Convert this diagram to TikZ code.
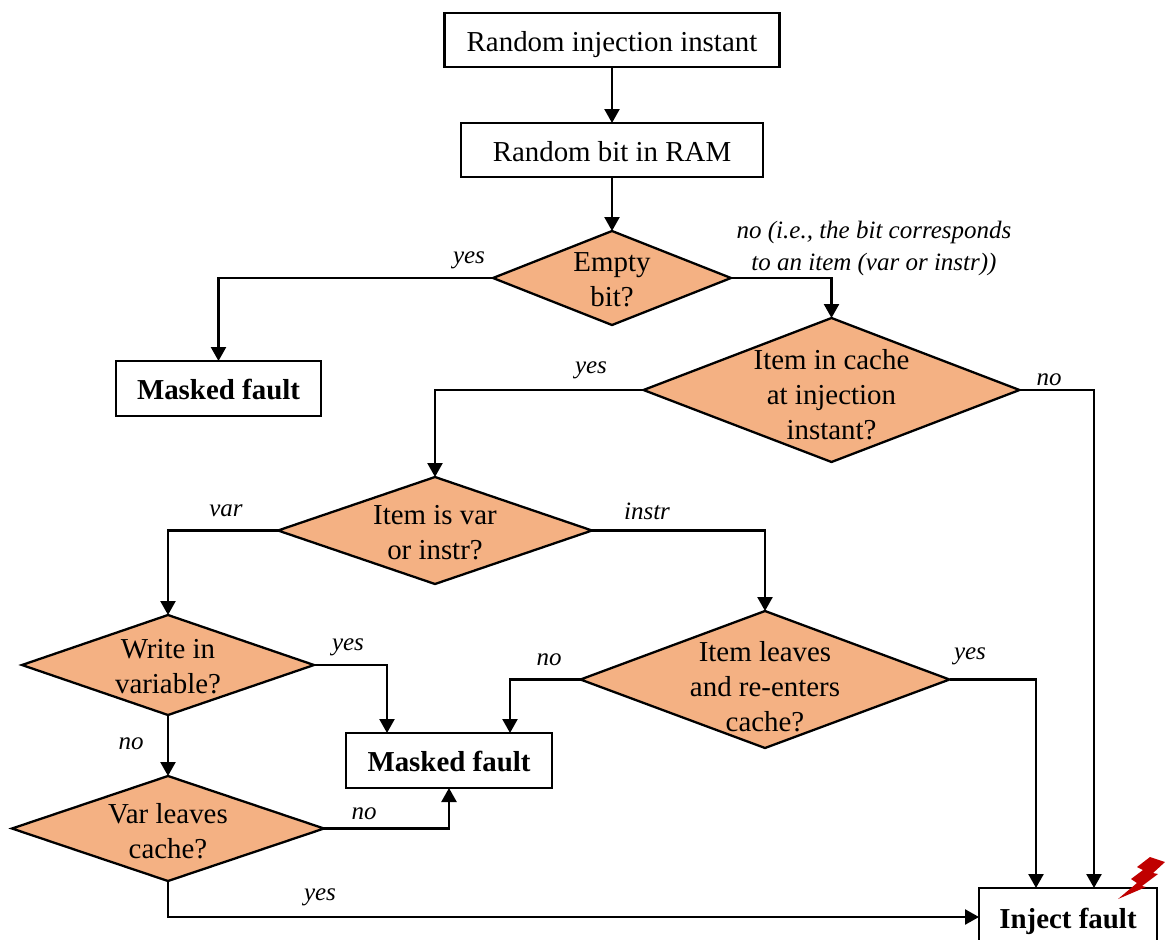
\documentclass[tikz,border=0pt]{standalone}
\usepackage{fontspec}
\setmainfont{Liberation Serif}
\usetikzlibrary{shapes.geometric,arrows.meta}
\newcommand{\dtxt}[2][0]{\smash{\makebox[0pt]{\raisebox{-0.25em}{\raisebox{-#1pt}{\begin{tabular}{@{}c@{}}#2\end{tabular}}}}}}
\tikzset{
  x=1pt,y=-1pt,
  boxnode/.style={draw=black,fill=white,line width=2.3pt,inner sep=0pt,outer sep=0pt,text height=26pt,text depth=4pt,font=\fontsize{28.9}{35}\selectfont},
  decnode/.style={diamond,draw=black,fill=decfill,line width=2.3pt,inner sep=0pt,outer sep=0pt,font=\fontsize{28.9}{35}\selectfont},
  lab/.style={inner sep=0pt,font=\fontsize{25}{32}\selectfont\itshape},
  conn/.style={line width=2.4pt,-{Triangle[width=15pt,length=14pt]}},
}
\definecolor{decfill}{HTML}{F4B183}
\definecolor{boltred}{HTML}{C00000}
\begin{document}
\begin{tikzpicture}
\useasboundingbox (0,0) rectangle (1165,940);
\setlength{\tabcolsep}{0pt}
\node[boxnode,minimum width=335pt,minimum height=54pt] (start) at (612,40) {Random injection instant};
\node[boxnode,minimum width=302pt,minimum height=54pt] (bit) at (612,150) {Random bit in RAM};
\node[decnode,minimum width=238pt,minimum height=94pt,shape aspect=2.53] (empty) at (612,278) {\dtxt[3]{Empty\\bit?}};
\node[boxnode,minimum width=205pt,minimum height=55pt,font=\fontsize{28.9}{35}\selectfont\bfseries] (mask1) at (218.5,388.5) {Masked fault};
\node[decnode,minimum width=376pt,minimum height=144pt,shape aspect=2.61] (incache) at (831.5,390) {\dtxt[6]{Item in cache\\at injection\\instant?}};
\node[decnode,minimum width=314pt,minimum height=107pt,shape aspect=2.93] (varinstr) at (435,530.5) {\dtxt[3]{Item is var\\or instr?}};
\node[decnode,minimum width=369pt,minimum height=137pt,shape aspect=2.69] (leaves) at (765,679.5) {\dtxt[9]{Item leaves\\and re-enters\\cache?}};
\node[decnode,minimum width=292pt,minimum height=100pt,shape aspect=2.92] (write) at (168,665) {\dtxt[3]{Write in\\variable?}};
\node[boxnode,minimum width=206pt,minimum height=55pt,font=\fontsize{28.9}{35}\selectfont\bfseries] (mask2) at (449,760.5) {Masked fault};
\node[decnode,minimum width=312pt,minimum height=105pt,shape aspect=2.97] (varleaves) at (168,828.5) {\dtxt[4]{Var leaves\\cache?}};
\node[boxnode,minimum width=178pt,minimum height=58pt,font=\fontsize{28.9}{35}\selectfont\bfseries] (inject) at (1068,917) {Inject fault};
\coordinate (injA) at (1036,888);
\coordinate (injB) at (1094,888);
\coordinate (injW) at (979,917);
\coordinate (mA) at (387,733);
\coordinate (mB) at (510,733);
\draw[conn] (start) -- (bit);
\draw[conn] (bit) -- (empty);
\draw[conn] (empty.west) -| (mask1.north);
\draw[conn] (empty.east) -| (incache.north);
\draw[conn] (incache.west) -| (varinstr.north);
\draw[conn] (incache.east) -| (injB);
\draw[conn] (varinstr.west) -| (write.north);
\draw[conn] (varinstr.east) -| (leaves.north);
\draw[conn] (write.east) -| (mA);
\draw[conn] (write.south) -- (varleaves.north);
\draw[conn] (varleaves.east) -| (mask2.south);
\draw[conn] (leaves.west) -| (mB);
\draw[conn] (leaves.east) -| (injA);
\draw[conn] (varleaves.south) |- (injW);
\node[lab] (l1) at (469,260) {yes};
\node[lab,align=center] (l2) at (874,248.5) {no (i.e., the bit corresponds\\to an item (var or instr))};
\node[lab] (l3) at (591,370) {yes};
\node[lab] (l4) at (1049,380) {no};
\node[lab] (l5) at (226,511) {var};
\node[lab] (l6) at (647,511) {instr};
\node[lab] (l7) at (348,647) {yes};
\node[lab] (l8) at (549,660) {no};
\node[lab] (l9) at (970,656) {yes};
\node[lab] (l10) at (131,744) {no};
\node[lab] (l11) at (364,814) {no};
\node[lab] (l12) at (320,897) {yes};
\fill[boltred] (1118,899) -- (1137,883) -- (1131,879) -- (1143,870) -- (1137,867) -- (1150,857) -- (1165,862) -- (1153,873) -- (1158,874) -- (1142,886) -- (1146,887) -- cycle;
\end{tikzpicture}
\end{document}
